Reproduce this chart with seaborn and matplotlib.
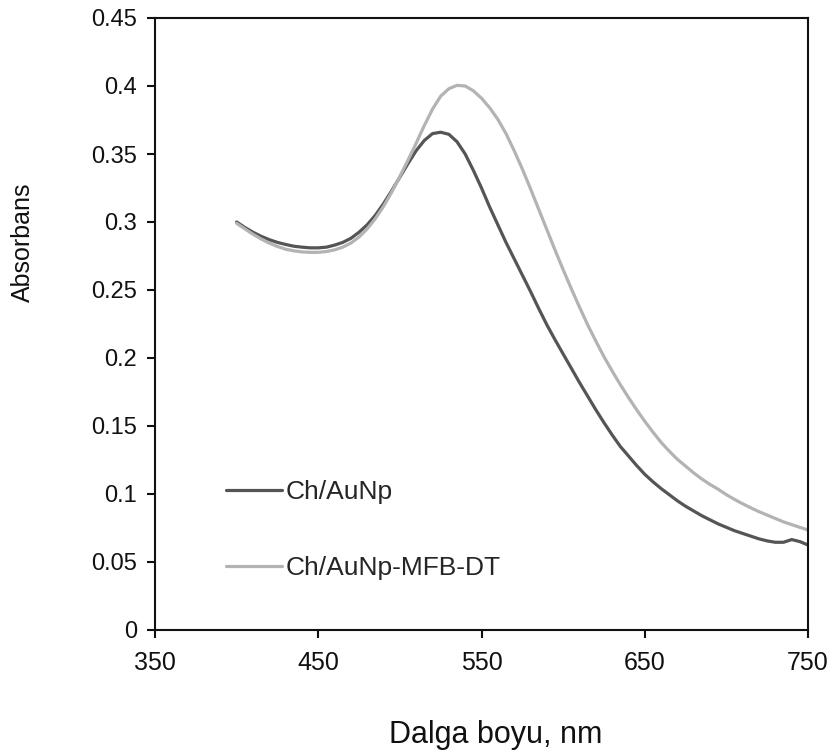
import numpy as np
import pandas as pd
import matplotlib
matplotlib.use("Agg")
import matplotlib.pyplot as plt
import seaborn as sns

# ---- data ----
wavelength = [400, 405, 410, 415, 420, 425, 430, 435, 440, 445, 450, 455, 460, 465, 470,
              475, 480, 485, 490, 495, 500, 505, 510, 515, 520, 525, 530, 535, 540, 545,
              550, 555, 560, 565, 570, 575, 580, 585, 590, 595, 600, 605, 610, 615, 620,
              625, 630, 635, 640, 645, 650, 655, 660, 665, 670, 675, 680, 685, 690, 695,
              700, 705, 710, 715, 720, 725, 730, 735, 740, 745, 750]

abs_ch_aunp = [0.300, 0.296, 0.2925, 0.2895, 0.287, 0.285, 0.2835, 0.2822, 0.2815, 0.281,
               0.281, 0.2815, 0.283, 0.285, 0.288, 0.2925, 0.298, 0.305, 0.3135, 0.323,
               0.333, 0.343, 0.3525, 0.360, 0.365, 0.366, 0.3645, 0.359, 0.350, 0.338,
               0.325, 0.311, 0.298, 0.285, 0.273, 0.261, 0.249, 0.2365, 0.2245, 0.2135,
               0.203, 0.1925, 0.182, 0.172, 0.162, 0.1525, 0.1435, 0.135, 0.128, 0.121,
               0.1145, 0.109, 0.104, 0.0995, 0.095, 0.091, 0.0875, 0.084, 0.081, 0.078,
               0.0755, 0.073, 0.071, 0.069, 0.067, 0.0655, 0.0645, 0.0645, 0.0665, 0.065,
               0.0625]

abs_ch_aunp_mfb_dt = [0.299, 0.295, 0.291, 0.2875, 0.2845, 0.282, 0.280, 0.2788, 0.278,
                      0.2777, 0.2777, 0.2783, 0.2795, 0.2815, 0.2845, 0.289, 0.295, 0.3025,
                      0.3115, 0.322, 0.3335, 0.3455, 0.358, 0.371, 0.383, 0.3925, 0.398,
                      0.4005, 0.400, 0.3965, 0.391, 0.384, 0.3755, 0.365, 0.3525, 0.339,
                      0.3245, 0.3095, 0.2945, 0.2795, 0.265, 0.251, 0.2375, 0.2245, 0.2125,
                      0.201, 0.1905, 0.1805, 0.171, 0.162, 0.1535, 0.1455, 0.138, 0.1315,
                      0.1255, 0.1205, 0.1155, 0.111, 0.107, 0.1035, 0.0995, 0.096, 0.0928,
                      0.0898, 0.087, 0.0845, 0.082, 0.0795, 0.0775, 0.0755, 0.0735]

series_names = ["Ch/AuNp", "Ch/AuNp-MFB-DT"]
x_ticks = [350, 450, 550, 650, 750]
y_ticks = [0, 0.05, 0.1, 0.15, 0.2, 0.25, 0.3, 0.35, 0.4, 0.45]
y_tick_labels = ["0", "0.05", "0.1", "0.15", "0.2", "0.25", "0.3", "0.35", "0.4", "0.45"]

df_dark = pd.DataFrame({"wl": wavelength, "A": abs_ch_aunp})
df_light = pd.DataFrame({"wl": wavelength, "A": abs_ch_aunp_mfb_dt})

sns.set_style("ticks")
plt.rcParams["font.family"] = ["Liberation Sans", "DejaVu Sans"]

fig = plt.figure(figsize=(8.30, 7.56), dpi=100)
ax = fig.add_axes([155 / 830, 1 - 630 / 756, (808 - 155) / 830, (630 - 18) / 756])

sns.lineplot(data=df_dark, x="wl", y="A", ax=ax, color="#555555", linewidth=2.3,
             label=series_names[0])
sns.lineplot(data=df_light, x="wl", y="A", ax=ax, color="#b3b3b3", linewidth=2.3,
             label=series_names[1])

ax.set_xlim(350, 750)
ax.set_ylim(0, 0.45)
ax.set_xticks(x_ticks)
ax.set_xticklabels([str(v) for v in x_ticks])
ax.set_yticks(y_ticks)
ax.set_yticklabels(y_tick_labels)

for s in ax.spines.values():
    s.set_visible(True)
    s.set_color("#111111")
    s.set_linewidth(1.5)

ax.tick_params(axis="x", direction="out", length=6, width=1.5, pad=9,
               labelsize=18, colors="#111111")
ax.tick_params(axis="y", direction="out", length=6, width=1.5, pad=7,
               labelsize=17, colors="#111111")

ax.set_xlabel("Dalga boyu, nm", fontsize=22, color="#111111")
ax.set_ylabel("Absorbans", fontsize=18, color="#111111")
ax.xaxis.set_label_coords(0.522, -0.147)
ax.yaxis.set_label_coords(-0.184, 0.634)

ax.legend(loc="lower left", bbox_to_anchor=(0.073, 0.043), frameon=False,
          fontsize=19, handlelength=2.1, handletextpad=0.15, labelspacing=1.95)

fig.savefig("out.png", dpi=100)
